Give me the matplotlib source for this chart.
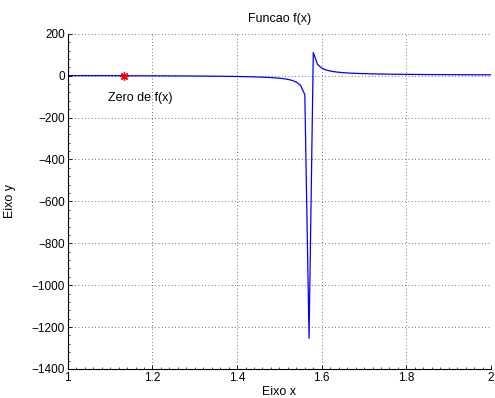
import matplotlib
matplotlib.use("Agg")
import matplotlib.pyplot as plt
from matplotlib.ticker import AutoMinorLocator

plt.rcParams['font.family'] = ['Liberation Sans', 'DejaVu Sans']

x_vals = [1.00, 1.01, 1.02, 1.03, 1.04, 1.05, 1.06, 1.07, 1.08, 1.09,
          1.10, 1.11, 1.12, 1.13, 1.14, 1.15, 1.16, 1.17, 1.18, 1.19,
          1.20, 1.21, 1.22, 1.23, 1.24, 1.25, 1.26, 1.27, 1.28, 1.29,
          1.30, 1.31, 1.32, 1.33, 1.34, 1.35, 1.36, 1.37, 1.38, 1.39,
          1.40, 1.41, 1.42, 1.43, 1.44, 1.45, 1.46, 1.47, 1.48, 1.49,
          1.50, 1.51, 1.52, 1.53, 1.54, 1.55, 1.56, 1.57, 1.58, 1.59,
          1.60, 1.61, 1.62, 1.63, 1.64, 1.65, 1.66, 1.67, 1.68, 1.69,
          1.70, 1.71, 1.72, 1.73, 1.74, 1.75, 1.76, 1.77, 1.78, 1.79,
          1.80, 1.81, 1.82, 1.83, 1.84, 1.85, 1.86, 1.87, 1.88, 1.89,
          1.90, 1.91, 1.92, 1.93, 1.94, 1.95, 1.96, 1.97, 1.98, 1.99, 2.00]
y_vals = [0.56, 0.53, 0.49, 0.46, 0.42, 0.38, 0.34, 0.29, 0.25, 0.20,
          0.16, 0.11, 0.05, 0.00, -0.06, -0.11, -0.18, -0.24, -0.31, -0.38,
          -0.45, -0.53, -0.61, -0.70, -0.79, -0.89, -0.99, -1.10, -1.22, -1.35,
          -1.48, -1.63, -1.78, -1.95, -2.14, -2.34, -2.55, -2.79, -3.06, -3.35,
          -3.68, -4.05, -4.46, -4.94, -5.48, -6.12, -6.87, -7.77, -8.86, -10.23,
          -11.98, -14.31, -17.55, -22.38, -30.34, -45.96, -90.50, -1253.7, 110.77, 54.19,
          36.35, 27.61, 22.43, 18.99, 16.55, 14.72, 13.30, 12.17, 11.24, 10.47,
          9.82, 9.26, 8.78, 8.36, 7.99, 7.66, 7.36, 7.10, 6.86, 6.64,
          6.41, 6.23, 6.06, 5.90, 5.75, 5.62, 5.49, 5.37, 5.26, 5.16,
          5.05, 4.96, 4.87, 4.78, 4.70, 4.63, 4.56, 4.49, 4.42, 4.36, 4.31]
zero_x = [1.133]
zero_y = [0.0]

fig = plt.figure(figsize=(4.95, 3.98), dpi=100)
ax = fig.add_axes([0.137, 0.073, 0.855, 0.842])
ax.plot(x_vals, y_vals, color='#0000ff', linewidth=0.9)
ax.plot(zero_x, zero_y, marker=(8, 2, 0), color='red', markeredgecolor='red',
        linestyle='none', markersize=6, markeredgewidth=0.9)
ax.text(1.095, -105, 'Zero de f(x)', fontsize=9, va='center', ha='left')

ax.set_xlim(1, 2)
ax.set_ylim(-1400, 200)
ax.set_xticks([1, 1.2, 1.4, 1.6, 1.8, 2])
ax.set_xticklabels(['1', '1.2', '1.4', '1.6', '1.8', '2'])
ax.set_yticks(list(range(-1400, 201, 200)))
ax.set_yticklabels(['\u22121400', '\u22121200', '\u22121000', '\u2212800', '\u2212600',
                    '\u2212400', '\u2212200', '0', '200'])
ax.xaxis.set_minor_locator(AutoMinorLocator(10))
ax.yaxis.set_minor_locator(AutoMinorLocator(5))
ax.tick_params(which='major', direction='in', length=3, labelsize=8.5, width=0.6, pad=2)
ax.tick_params(which='minor', direction='in', length=1.5, width=0.5)
ax.grid(True, which='major', linestyle=(0, (1, 3)), color='#444444', linewidth=0.6)
ax.spines['top'].set_visible(False)
ax.spines['right'].set_visible(False)
ax.spines['left'].set_linewidth(0.8)
ax.spines['bottom'].set_linewidth(0.8)
ax.set_title('Funcao f(x)', fontsize=9, pad=8.5)
ax.set_xlabel('Eixo x', fontsize=9)
ax.set_ylabel('Eixo y', fontsize=9)
ax.xaxis.set_label_coords(0.5, -0.069)
ax.yaxis.set_label_coords(-0.137, 0.5)
ax.xaxis.label.set_va('center')
ax.yaxis.label.set_va('center')

fig.savefig('out.png', dpi=100)
